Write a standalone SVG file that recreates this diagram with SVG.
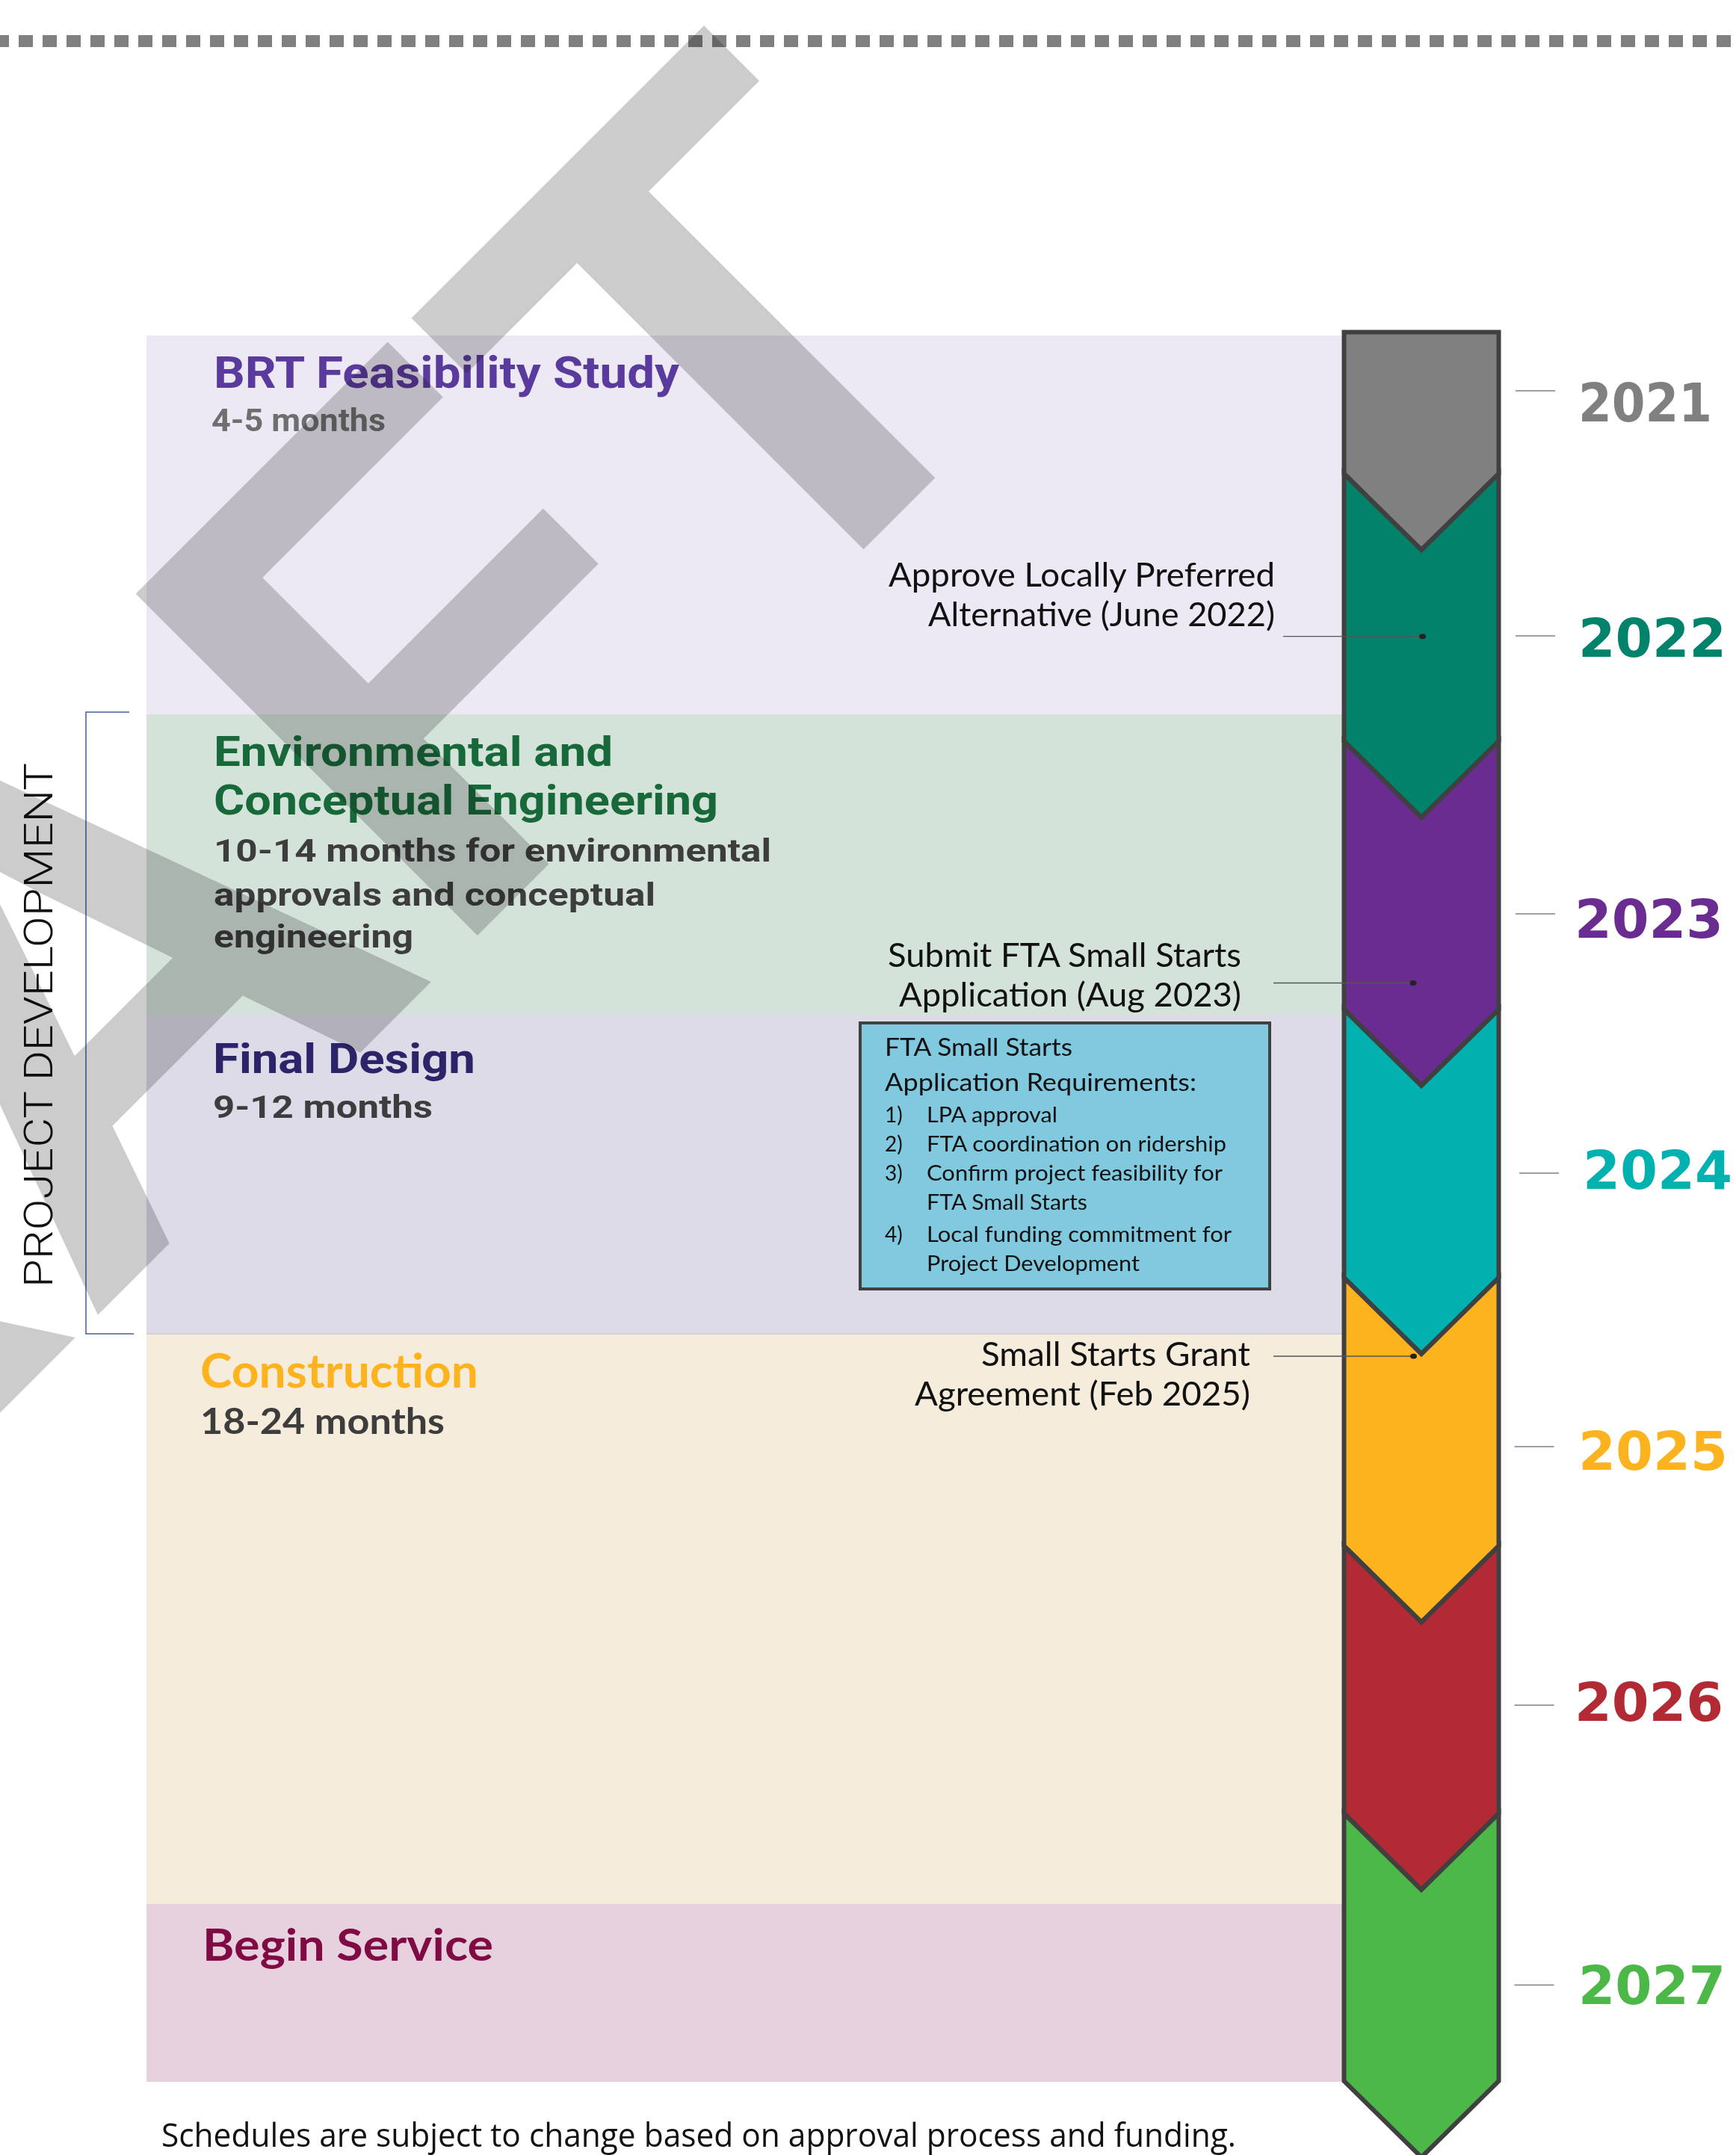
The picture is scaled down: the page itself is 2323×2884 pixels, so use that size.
<svg xmlns="http://www.w3.org/2000/svg" width="2323" height="2884" viewBox="0 0 2323 2884">
<style>
.head{font-family:"Roboto","Liberation Sans",sans-serif;font-weight:bold}
.geo{font-family:"Lato","Liberation Sans",sans-serif;font-weight:bold}
.cal{font-family:"Lato","Liberation Sans",sans-serif;font-weight:normal;fill:#111111}
.year{font-family:"DejaVu Sans","Liberation Sans",sans-serif;font-weight:bold;font-size:72px}
.seg{stroke:#404040;stroke-width:6;stroke-linejoin:miter}
.tick{stroke:#808080;stroke-width:1.5}
.conn{stroke:#555555;stroke-width:1.3;fill:none}
.wm{mix-blend-mode:multiply}
</style>
<rect width="2323" height="2884" fill="#ffffff"/>
<line x1="-7" y1="55" x2="2323" y2="55" stroke="#808080" stroke-width="16" stroke-dasharray="19 13"/>
<g id="bands">
<rect x="196" y="449" width="1602" height="507" fill="#ece9f4"/>
<rect x="196" y="956" width="1602" height="402" fill="#d4e3da"/>
<rect x="196" y="1358" width="1602" height="427" fill="#dddbe8"/>
<rect x="196" y="1785" width="1602" height="763" fill="#f5ecdb"/>
<rect x="196" y="2548" width="1602" height="238" fill="#e8d1de"/>
<line x1="196" y1="1785" x2="1798" y2="1785" stroke="#d8cfd0" stroke-width="2"/>
</g>
<g id="phase-brt">
<text class="head" x="286" y="519" font-size="60" fill="#5b3a9e" textLength="623" lengthAdjust="spacingAndGlyphs">BRT Feasibility Study</text>
<text class="head" x="283" y="577" font-size="42" fill="#6f6f6f" textLength="233" lengthAdjust="spacingAndGlyphs">4-5 months</text>
</g>
<g id="phase-env">
<text class="head" x="286" y="1025" font-size="56" fill="#17693a" textLength="534" lengthAdjust="spacingAndGlyphs">Environmental and</text>
<text class="head" x="286" y="1090" font-size="56" fill="#17693a" textLength="675" lengthAdjust="spacingAndGlyphs">Conceptual Engineering</text>
<text class="head" x="286" y="1153" font-size="42" fill="#3d3d3d" textLength="746" lengthAdjust="spacingAndGlyphs">10-14 months for environmental</text>
<text class="head" x="286" y="1212" font-size="42" fill="#3d3d3d" textLength="591" lengthAdjust="spacingAndGlyphs">approvals and conceptual</text>
<text class="head" x="286" y="1268" font-size="42" fill="#3d3d3d" textLength="267" lengthAdjust="spacingAndGlyphs">engineering</text>
</g>
<g id="phase-final">
<text class="head" x="285" y="1436" font-size="56" fill="#2b2468" textLength="351" lengthAdjust="spacingAndGlyphs">Final Design</text>
<text class="head" x="285" y="1496" font-size="42" fill="#3d3d3d" textLength="294" lengthAdjust="spacingAndGlyphs">9-12 months</text>
</g>
<g id="phase-construction">
<text class="geo" x="268" y="1857" font-size="63" fill="#fdb31e" textLength="372" lengthAdjust="spacingAndGlyphs">Construction</text>
<text class="geo" x="268" y="1919" font-size="48" fill="#3d3d3d" textLength="327" lengthAdjust="spacingAndGlyphs">18-24 months</text>
</g>
<g id="phase-service">
<text class="geo" x="271" y="2624" font-size="60" fill="#7f0a44" textLength="389" lengthAdjust="spacingAndGlyphs">Begin Service</text>
</g>
<g id="bracket">
<path d="M173,953 H115 V1785 H179" fill="none" stroke="#3f5f9f" stroke-width="1.5"/>
<text transform="translate(70,1372) rotate(-90)" x="-351" y="0" font-family="Roboto, 'Liberation Sans', sans-serif" font-weight="300" font-size="53" fill="#111111" textLength="702" lengthAdjust="spacingAndGlyphs">PROJECT DEVELOPMENT</text>
</g>
<g id="fta-box">
<rect x="1151" y="1369" width="548" height="356" fill="#80c9df" stroke="#404040" stroke-width="4"/>
<text class="cal" x="1184" y="1413" font-size="32" textLength="251" lengthAdjust="spacingAndGlyphs">FTA Small Starts</text>
<text class="cal" x="1184" y="1460" font-size="32" textLength="417" lengthAdjust="spacingAndGlyphs">Application Requirements:</text>
<text class="cal" x="1184" y="1502" font-size="28">1)</text>
<text class="cal" x="1240" y="1502" font-size="28" textLength="175" lengthAdjust="spacingAndGlyphs">LPA approval</text>
<text class="cal" x="1184" y="1541" font-size="28">2)</text>
<text class="cal" x="1240" y="1541" font-size="28" textLength="401" lengthAdjust="spacingAndGlyphs">FTA coordination on ridership</text>
<text class="cal" x="1184" y="1580" font-size="28">3)</text>
<text class="cal" x="1240" y="1580" font-size="28" textLength="396" lengthAdjust="spacingAndGlyphs">Confirm project feasibility for</text>
<text class="cal" x="1240" y="1619" font-size="28" textLength="215" lengthAdjust="spacingAndGlyphs">FTA Small Starts</text>
<text class="cal" x="1184" y="1662" font-size="28">4)</text>
<text class="cal" x="1240" y="1662" font-size="28" textLength="408" lengthAdjust="spacingAndGlyphs">Local funding commitment for</text>
<text class="cal" x="1240" y="1701" font-size="28" textLength="285" lengthAdjust="spacingAndGlyphs">Project Development</text>
</g>
<g id="timeline">
<path class="seg" fill="#808080" d="M1798.5,444.5 H2005.5 V634 L1902,736 L1798.5,634 Z"/>
<path class="seg" fill="#00836a" d="M1798.5,634 L1902,736 L2005.5,634 V992 L1902,1094 L1798.5,992 Z"/>
<path class="seg" fill="#6a2c91" d="M1798.5,992 L1902,1094 L2005.5,992 V1351 L1902,1453 L1798.5,1351 Z"/>
<path class="seg" fill="#00b1b0" d="M1798.5,1351 L1902,1453 L2005.5,1351 V1710 L1902,1812 L1798.5,1710 Z"/>
<path class="seg" fill="#fdb31e" d="M1798.5,1710 L1902,1812 L2005.5,1710 V2069 L1902,2171 L1798.5,2069 Z"/>
<path class="seg" fill="#b22a33" d="M1798.5,2069 L1902,2171 L2005.5,2069 V2427 L1902,2529 L1798.5,2427 Z"/>
<path class="seg" fill="#4cb848" d="M1798.5,2427 L1902,2529 L2005.5,2427 V2785 L1902,2887 L1798.5,2785 Z"/>
</g>
<g id="years">
<text class="year" x="2112" y="564" fill="#808080" textLength="179" lengthAdjust="spacingAndGlyphs">2021</text>
<text class="year" x="2112" y="879" fill="#00836a" textLength="198" lengthAdjust="spacingAndGlyphs">2022</text>
<text class="year" x="2107" y="1255" fill="#6a2c91" textLength="199" lengthAdjust="spacingAndGlyphs">2023</text>
<text class="year" x="2118" y="1591" fill="#00b1b0" textLength="200" lengthAdjust="spacingAndGlyphs">2024</text>
<text class="year" x="2112" y="1967" fill="#fdb31e" textLength="200" lengthAdjust="spacingAndGlyphs">2025</text>
<text class="year" x="2107" y="2303" fill="#b22a33" textLength="199" lengthAdjust="spacingAndGlyphs">2026</text>
<text class="year" x="2112" y="2682" fill="#4cb848" textLength="197" lengthAdjust="spacingAndGlyphs">2027</text>
</g>
<g id="milestones">
<text class="cal" x="1189" y="785" font-size="44" textLength="517" lengthAdjust="spacingAndGlyphs">Approve Locally Preferred</text>
<text class="cal" x="1242" y="838" font-size="44" textLength="464" lengthAdjust="spacingAndGlyphs">Alternative (June 2022)</text>
<text class="cal" x="1188" y="1294" font-size="44" textLength="473" lengthAdjust="spacingAndGlyphs">Submit FTA Small Starts</text>
<text class="cal" x="1203" y="1347" font-size="44" textLength="458" lengthAdjust="spacingAndGlyphs">Application (Aug 2023)</text>
<text class="cal" x="1313" y="1828" font-size="44" textLength="360" lengthAdjust="spacingAndGlyphs">Small Starts Grant</text>
<text class="cal" x="1224" y="1881" font-size="44" textLength="449" lengthAdjust="spacingAndGlyphs">Agreement (Feb 2025)</text>
</g>
<g id="connectors">
<line class="conn" x1="1717" y1="851.7" x2="1903.6" y2="851.7"/>
<ellipse cx="1903.6" cy="851.7" rx="4.5" ry="3.5" fill="#222222"/>
<line class="conn" x1="1704" y1="1315.5" x2="1891" y2="1315.5"/>
<ellipse cx="1891" cy="1315.5" rx="4.5" ry="3.5" fill="#222222"/>
<line class="conn" x1="1704" y1="1815" x2="1891.5" y2="1815"/>
<ellipse cx="1891.5" cy="1815" rx="4.5" ry="3.5" fill="#222222"/>
<line class="tick" x1="2028" y1="523" x2="2081" y2="523"/>
<line class="tick" x1="2028" y1="851" x2="2081" y2="851"/>
<line class="tick" x1="2028" y1="1223" x2="2081" y2="1223"/>
<line class="tick" x1="2033" y1="1570" x2="2086" y2="1570"/>
<line class="tick" x1="2026.5" y1="1936" x2="2079.5" y2="1936"/>
<line class="tick" x1="2026.5" y1="2282" x2="2079.5" y2="2282"/>
<line class="tick" x1="2026.5" y1="2656.5" x2="2079.5" y2="2656.5"/>
</g>
<text x="216" y="2873" font-family="'Open Sans','Liberation Sans',sans-serif" font-size="44" fill="#111111" textLength="1438" lengthAdjust="spacingAndGlyphs">Schedules are subject to change based on approval process and funding.</text>
<text class="wm" transform="rotate(-45)" x="652" y="1337" text-anchor="end" font-family="'Liberation Sans',Arial,sans-serif" font-weight="bold" font-size="940" fill="#cccccc">DRAFT</text>
</svg>
